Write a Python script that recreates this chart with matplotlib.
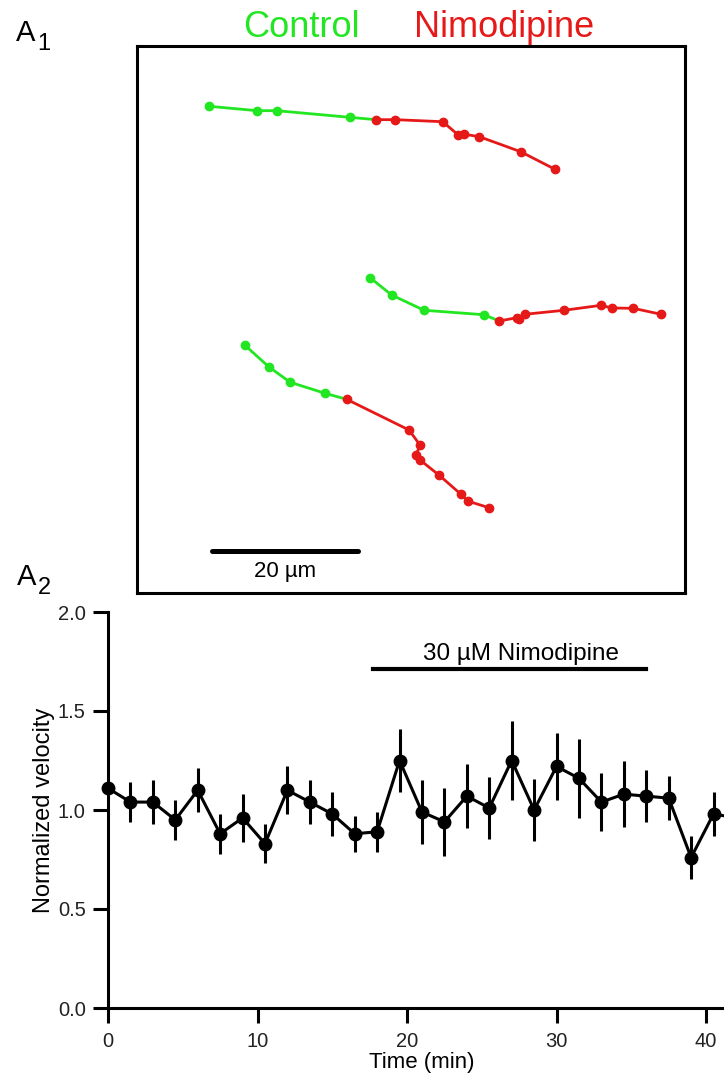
import numpy as np
import matplotlib.pyplot as plt

plt.rcParams['font.family'] = ['Liberation Sans', 'DejaVu Sans']

green = '#22e622'
red = '#e61919'

# A1: cell tracks (um, origin at lower left of the box)
track1_ctrl_x = [9.90, 16.44, 19.14, 29.14]
track1_ctrl_y = [66.67, 66.07, 66.07, 65.16]
track1_nimo_x = [32.74, 35.38, 41.88, 44.01, 44.84, 46.89, 52.56, 57.26]
track1_nimo_y = [64.84, 64.84, 64.56, 62.74, 62.84, 62.51, 60.45, 58.04]

track2_ctrl_x = [31.92, 34.89, 39.32, 47.53]
track2_ctrl_y = [43.19, 40.82, 38.73, 38.12]
track2_nimo_x = [49.63, 52.01, 52.33, 53.15, 58.53, 63.56, 65.03, 67.99, 71.78]
track2_nimo_y = [37.26, 37.71, 37.49, 38.18, 38.73, 39.41, 39.04, 39.00, 38.18]

track3_ctrl_x = [14.79, 18.08, 21.00, 25.75]
track3_ctrl_y = [33.93, 30.96, 28.86, 27.36]
track3_nimo_x = [28.73, 37.26, 38.77, 38.22, 38.77, 41.41, 44.38, 45.30, 48.22]
track3_nimo_y = [26.53, 22.33, 20.27, 18.86, 18.22, 16.12, 13.52, 12.60, 11.68]

tracks = [
    (track1_ctrl_x, track1_ctrl_y, track1_nimo_x, track1_nimo_y),
    (track2_ctrl_x, track2_ctrl_y, track2_nimo_x, track2_nimo_y),
    (track3_ctrl_x, track3_ctrl_y, track3_nimo_x, track3_nimo_y),
]

scalebar_um = [10.3, 30.3]

# A2: normalized velocity
time_min = [0, 1.5, 3, 4.5, 6, 7.5, 9, 10.5, 12, 13.5, 15, 16.5, 18, 19.5, 21, 22.5,
            24, 25.5, 27, 28.5, 30, 31.5, 33, 34.5, 36, 37.5, 39, 40.5, 42]
velocity = [1.11, 1.04, 1.04, 0.95, 1.10, 0.88, 0.96, 0.83, 1.10, 1.04, 0.98, 0.88, 0.89,
            1.25, 0.99, 0.94, 1.07, 1.01, 1.25, 1.00, 1.22, 1.16, 1.04, 1.08, 1.07, 1.06,
            0.76, 0.98, 0.96]
velocity_err = [0.0, 0.10, 0.11, 0.10, 0.11, 0.10, 0.12, 0.10, 0.12, 0.11, 0.11, 0.09, 0.10,
                0.16, 0.16, 0.17, 0.16, 0.155, 0.20, 0.155, 0.17, 0.20, 0.145, 0.165, 0.13,
                0.11, 0.11, 0.11, 0.10]
drug_period = [17.75, 36.0]

W, H = 724, 1076
fig = plt.figure(figsize=(W / 100, H / 100), dpi=100)

# ---- A1 ----
ax1 = fig.add_axes([137 / W, 1 - 593 / H, (685 - 137) / W, (593 - 46) / H])
for cx, cy, nx, ny in tracks:
    ax1.plot(cx + nx[:1], cy + ny[:1], color=green, lw=2)
    ax1.plot(nx, ny, color=red, lw=2, marker='o', ms=6, zorder=3)
    ax1.plot(cx, cy, color=green, lw=0, marker='o', ms=6, zorder=3)
ax1.plot(scalebar_um, [5.75, 5.75], color='black', lw=3.6, solid_capstyle='round')
ax1.text(np.mean(scalebar_um), 2.2, '20 µm', ha='center', va='baseline', fontsize=16)
ax1.set_xlim(0, 75.07)
ax1.set_ylim(0, 74.93)
ax1.set_xticks([])
ax1.set_yticks([])
for s in ax1.spines.values():
    s.set_linewidth(2.2)

fig.text(301 / W, 1 - 37 / H, 'Control', color=green, fontsize=26, ha='center', va='baseline')
fig.text(504 / W, 1 - 37 / H, 'Nimodipine', color=red, fontsize=26, ha='center', va='baseline')
fig.text(16 / W, 1 - 41 / H, 'A', fontsize=21, va='baseline')
fig.text(37 / W, 1 - 50 / H, '1', fontsize=17, va='baseline')
fig.text(17 / W, 1 - 585 / H, 'A', fontsize=21, va='baseline')
fig.text(38 / W, 1 - 594 / H, '2', fontsize=17, va='baseline')

# ---- A2 ----
ax2 = fig.add_axes([108 / W, 1 - 1008 / H, (W - 108) / W, (1008 - 612) / H])
ax2.errorbar(time_min, velocity, yerr=velocity_err, color='black', lw=2.2,
             elinewidth=2.2, capsize=0, marker='o', ms=9, clip_on=False)
ax2.plot(drug_period, [1.712, 1.712], color='black', lw=3)
ax2.text(27.6, 1.758, '30 µM Nimodipine', ha='center', va='baseline', fontsize=17.5)
ax2.set_xlim(0, 41.2)
ax2.set_ylim(0, 2.0)
ax2.set_xticks([0, 10, 20, 30, 40])
ax2.set_yticks([0, 0.5, 1.0, 1.5, 2.0])
ax2.set_yticklabels(['0.0', '0.5', '1.0', '1.5', '2.0'])
ax2.spines['top'].set_visible(False)
ax2.spines['right'].set_visible(False)
ax2.spines['left'].set_linewidth(2.2)
ax2.spines['bottom'].set_linewidth(2.2)
ax2.spines['left'].set_bounds(0, 2.0)
ax2.tick_params(axis='both', direction='out', length=11, width=2.2, labelsize=14.5)
ax2.tick_params(axis='y', pad=5)
ax2.tick_params(axis='x', pad=6)
ax2.set_ylabel('Normalized velocity', fontsize=17)
ax2.yaxis.set_label_coords(-0.086, 0.5)
ax2.set_xlabel('Time (min)', fontsize=16)
ax2.xaxis.set_label_coords(0.51, -0.11)
for lab in ax2.get_xticklabels() + ax2.get_yticklabels():
    lab.set_color('#222222')

fig.savefig('out.png', dpi=100)
